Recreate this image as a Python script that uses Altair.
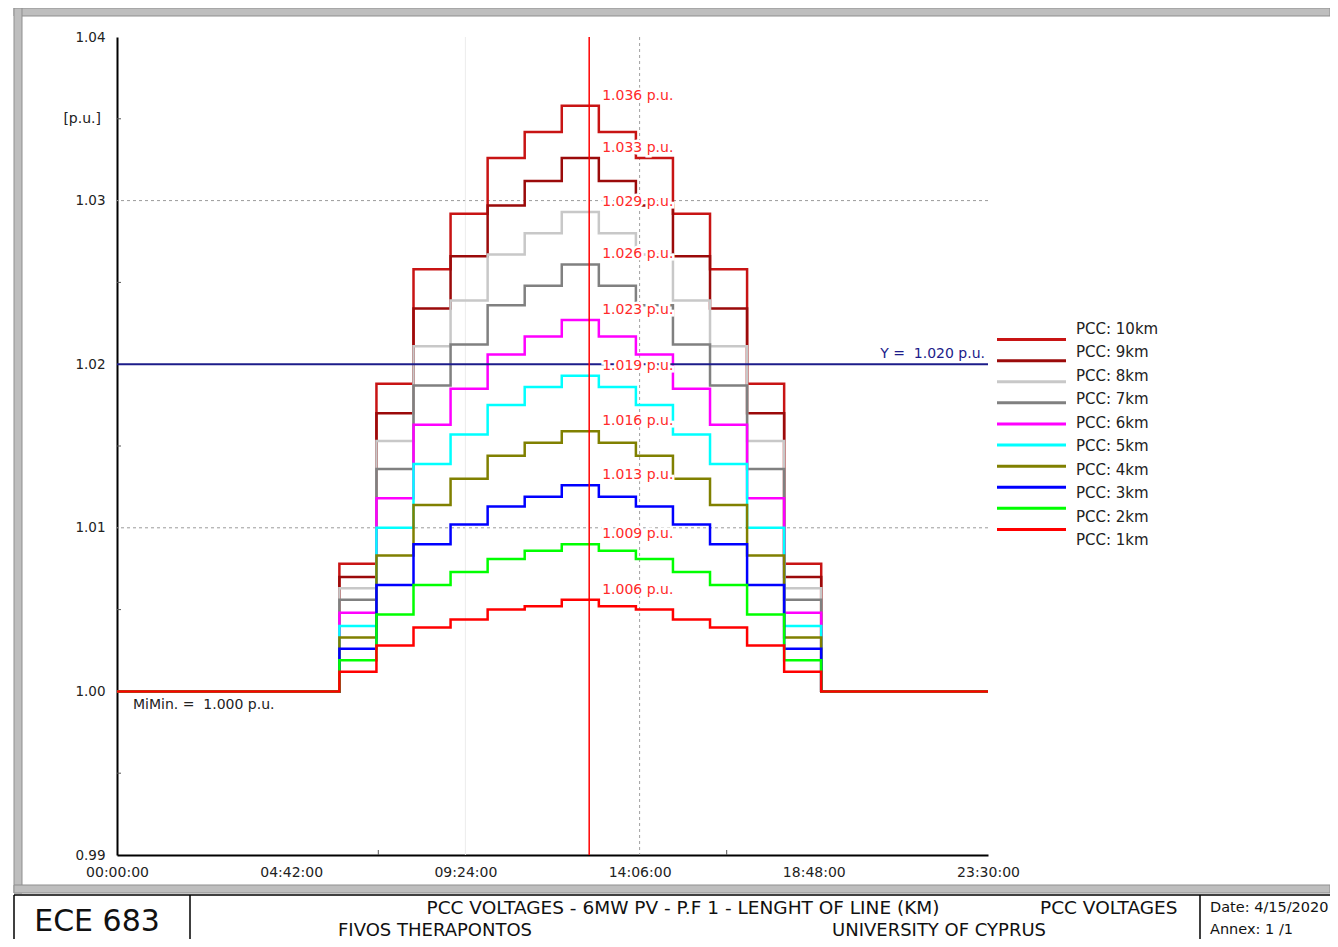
import altair as alt
import pandas as pd

FONT = "DejaVu Sans"

# ---------------- data ----------------
series_names = ["PCC: 10km", "PCC: 9km", "PCC: 8km", "PCC: 7km", "PCC: 6km",
                "PCC: 5km", "PCC: 4km", "PCC: 3km", "PCC: 2km", "PCC: 1km"]
series_colors = ["#c81414", "#9b0a0a", "#c8c8c8", "#808080", "#ff00ff",
                 "#00ffff", "#808000", "#0000ff", "#00ff00", "#ff0000"]

step_hours = [6, 7, 8, 9, 10, 11, 12, 13, 14, 15, 16, 17, 18]
v10km = [1.0078, 1.0188, 1.0258, 1.0292, 1.0326, 1.0342, 1.0358, 1.0342, 1.0326, 1.0292, 1.0258, 1.0188, 1.0078]
v9km = [1.0070, 1.0170, 1.0234, 1.0266, 1.0297, 1.0312, 1.0326, 1.0312, 1.0297, 1.0266, 1.0234, 1.0170, 1.0070]
v8km = [1.0063, 1.0153, 1.0211, 1.0239, 1.0267, 1.0280, 1.0293, 1.0280, 1.0267, 1.0239, 1.0211, 1.0153, 1.0063]
v7km = [1.0056, 1.0136, 1.0187, 1.0212, 1.0236, 1.0248, 1.0261, 1.0248, 1.0236, 1.0212, 1.0187, 1.0136, 1.0056]
v6km = [1.0048, 1.0118, 1.0163, 1.0185, 1.0206, 1.0217, 1.0227, 1.0217, 1.0206, 1.0185, 1.0163, 1.0118, 1.0048]
v5km = [1.0040, 1.0100, 1.0139, 1.0157, 1.0175, 1.0186, 1.0193, 1.0186, 1.0175, 1.0157, 1.0139, 1.0100, 1.0040]
v4km = [1.0033, 1.0083, 1.0114, 1.0130, 1.0144, 1.0152, 1.0159, 1.0152, 1.0144, 1.0130, 1.0114, 1.0083, 1.0033]
v3km = [1.0026, 1.0065, 1.0090, 1.0102, 1.0113, 1.0119, 1.0126, 1.0119, 1.0113, 1.0102, 1.0090, 1.0065, 1.0026]
v2km = [1.0019, 1.0047, 1.0065, 1.0073, 1.0081, 1.0086, 1.0090, 1.0086, 1.0081, 1.0073, 1.0065, 1.0047, 1.0019]
v1km = [1.0012, 1.0028, 1.0039, 1.0044, 1.0050, 1.0052, 1.0056, 1.0052, 1.0050, 1.0044, 1.0039, 1.0028, 1.0012]
series_values = [v10km, v9km, v8km, v7km, v6km, v5km, v4km, v3km, v2km, v1km]

base_level = 1.000
day_start = 0.0
flat_from = 19.0
day_end = 23.5

x_tick_values = [0, 4.7, 9.4, 14.1, 18.8, 23.5]
x_tick_labels = ["00:00:00", "04:42:00", "09:24:00", "14:06:00", "18:48:00", "23:30:00"]
y_tick_values = [0.99, 1.00, 1.01, 1.02, 1.03, 1.04]
y_minor_ticks = [0.995, 1.005, 1.015, 1.025, 1.035]
x_minor_ticks = [7.05, 16.45]
h_grid = [1.01, 1.03]
limit_value = [1.020]
cursor_time = [12.74]

NBSP = "\u00a0"

# ---------------- tables ----------------
rows = []
for name, vals in zip(series_names, series_values):
    rows.append((name, day_start, base_level))
    for h, v in zip(step_hours, vals):
        rows.append((name, h, v))
    rows.append((name, flat_from, base_level))
    rows.append((name, day_end, base_level))
df = pd.DataFrame(rows, columns=["series", "hour", "pu"])

peak_idx = step_hours.index(12)
df_lab = pd.DataFrame({
    "hour": [cursor_time[0]] * len(series_names),
    "pu": [vals[peak_idx] for vals in series_values],
    "txt": [f"{vals[peak_idx]:.3f} p.u." for vals in series_values],
})

W, H = 871, 818
xs = alt.Scale(domain=[day_start, day_end], nice=False, zero=False)
ys = alt.Scale(domain=[y_tick_values[0], y_tick_values[-1]], nice=False, zero=False)

lab_expr = ("[" + ",".join(f"'{s}'" for s in x_tick_labels) + "][indexof(["
            + ",".join(str(v) for v in x_tick_values) + "], datum.value)]")

x_axis = alt.Axis(values=x_tick_values, labelExpr=lab_expr, grid=False, ticks=False,
                  domainColor="#000000", domainWidth=2, labelFont=FONT, labelFontSize=14,
                  labelColor="#222222", labelPadding=10, title=None, labelFlush=False,
                  labelOverlap=False)
y_axis = alt.Axis(values=y_tick_values, format=".2f", grid=False, ticks=False,
                  domainColor="#000000", domainWidth=2, labelFont=FONT, labelFontSize=13.5,
                  labelColor="#222222", labelPadding=12, title=None, labelFlush=False,
                  labelOverlap=False)


def X(field="hour"):
    return alt.X(f"{field}:Q", scale=xs, axis=x_axis)


def Y(field="pu"):
    return alt.Y(f"{field}:Q", scale=ys, axis=y_axis)


layers = []

# grid
layers.append(alt.Chart(pd.DataFrame({"pu": h_grid})).mark_rule(
    color="#9a9a9a", strokeDash=[3, 3], strokeWidth=1).encode(y=Y()))
layers.append(alt.Chart(pd.DataFrame({"hour": [x_tick_values[2]]})).mark_rule(
    color="#ececec", strokeWidth=1).encode(x=X()))
layers.append(alt.Chart(pd.DataFrame({"hour": [x_tick_values[3]]})).mark_rule(
    color="#a0a0a0", strokeDash=[3, 3], strokeWidth=1).encode(x=X()))

# series (10km drawn first, 1km last)
for name, col in zip(series_names, series_colors):
    layers.append(alt.Chart(df).transform_filter(alt.datum.series == name).mark_line(
        interpolate="step-after", strokeWidth=2.5, color=col).encode(x=X(), y=Y()))

# limit line
layers.append(alt.Chart(pd.DataFrame({"pu": limit_value})).mark_rule(
    color="#1c1c8a", strokeWidth=2).encode(y=Y()))
layers.append(alt.Chart(pd.DataFrame({"pu": limit_value, "hour": [day_end],
                                      "txt": [f"Y ={NBSP} {limit_value[0]:.3f} p.u."]})).mark_text(
    align="right", baseline="alphabetic", dx=-3, dy=-6, font=FONT, fontSize=14,
    color="#1c1c8a").encode(x=X(), y=Y(), text="txt:N"))

# cursor
layers.append(alt.Chart(pd.DataFrame({"hour": cursor_time})).mark_rule(
    color="#ff0000", strokeWidth=1.5).encode(x=X()))
layers.append(alt.Chart(df_lab).mark_text(
    align="left", baseline="middle", dx=13, dy=-10, font=FONT, fontSize=14,
    stroke="white", strokeWidth=5, color="white").encode(x=X(), y=Y(), text="txt:N"))
layers.append(alt.Chart(df_lab).mark_text(
    align="left", baseline="middle", dx=13, dy=-10, font=FONT, fontSize=14,
    color="#ff2a2a").encode(x=X(), y=Y(), text="txt:N"))

# annotations
layers.append(alt.Chart(pd.DataFrame({"hour": [day_start], "pu": [base_level],
                                      "txt": [f"MiMin. ={NBSP} {base_level:.3f} p.u."]})).mark_text(
    align="left", baseline="middle", dx=16, dy=14, font=FONT, fontSize=14,
    color="#222222").encode(x=X(), y=Y(), text="txt:N"))
layers.append(alt.Chart(pd.DataFrame({"hour": [day_start], "pu": [1.035], "txt": ["[p.u.]"]})).mark_text(
    align="right", baseline="middle", dx=-16, font=FONT, fontSize=14,
    color="#222222").encode(x=X(), y=Y(), text="txt:N"))

# minor ticks
layers.append(alt.Chart(pd.DataFrame({"pu": y_minor_ticks})).mark_rule(
    color="#555555", strokeWidth=1).encode(y=Y(), x=alt.value(0), x2=alt.value(4)))
layers.append(alt.Chart(pd.DataFrame({"hour": x_minor_ticks})).mark_rule(
    color="#555555", strokeWidth=1).encode(x=X(), y=alt.value(H - 5), y2=alt.value(H)))

# page frame (decoration, pixel space relative to plot origin)
OX, OY = 117, 37


def rect(x1, y1, x2, y2, fill, stroke=None):
    kw = dict(fill=fill)
    if stroke:
        kw.update(stroke=stroke, strokeWidth=1)
    return alt.Chart(pd.DataFrame({"k": [0]})).mark_rect(**kw).encode(
        x=alt.value(x1 - OX), x2=alt.value(x2 - OX), y=alt.value(y1 - OY), y2=alt.value(y2 - OY))


def line(x1, y1, x2, y2, color="#000000", w=1.5):
    return alt.Chart(pd.DataFrame({"k": [0]})).mark_rule(color=color, strokeWidth=w).encode(
        x=alt.value(x1 - OX), x2=alt.value(x2 - OX), y=alt.value(y1 - OY), y2=alt.value(y2 - OY))


def label(x, y, txt, size, align="left"):
    return alt.Chart(pd.DataFrame({"t": [txt]})).mark_text(
        align=align, baseline="middle", font=FONT, fontSize=size, color="#111111").encode(
        x=alt.value(x - OX), y=alt.value(y - OY), text="t:N")


layers += [
    rect(14, 8, 1330, 16, "#bebebe", "#8f8f8f"),
    rect(14, 8, 22, 893, "#bebebe", "#8f8f8f"),
    rect(14, 885, 1330, 893, "#bebebe", "#8f8f8f"),
    line(14, 895, 1330, 895),
    line(14, 895, 14, 947),
    line(190, 895, 190, 947),
    line(1200, 895, 1200, 947),
    label(97, 922, "ECE 683", 30, "center"),
    label(683, 908, "PCC VOLTAGES - 6MW PV - P.F 1 - LENGHT OF LINE (KM)", 18.5, "center"),
    label(1040, 908, "PCC VOLTAGES", 18.5),
    label(1210, 908, "Date: 4/15/2020", 14.5),
    label(1210, 930, "Annex: 1 /1", 14.5),
    label(338, 931, "FIVOS THERAPONTOS", 18),
    label(832, 931, "UNIVERSITY OF CYPRUS", 18),
]

inner = alt.layer(*layers)

# legend (own y scale)
df_leg = pd.DataFrame({"series": series_names})
leg_y = alt.Y("series:N", scale=alt.Scale(domain=series_names, range=[329 - OY, 540 - OY], padding=0),
              axis=None)
leg_color = alt.Color("series:N", scale=alt.Scale(domain=series_names, range=series_colors), legend=None)
legend_lines = alt.Chart(df_leg).mark_rule(strokeWidth=3).encode(
    x=alt.value(997 - OX), x2=alt.value(1066 - OX), y=leg_y, color=leg_color)
legend_text = alt.Chart(df_leg).mark_text(align="left", baseline="middle", font=FONT,
                                          fontSize=15, color="#222222").encode(
    x=alt.value(1076 - OX), y=leg_y, text="series:N")

chart = alt.layer(inner, legend_lines, legend_text).resolve_scale(y="independent").properties(
    width=W, height=H,
    padding={"left": OX - 8, "top": OY - 8, "right": 1330 - (OX + W), "bottom": 939 - (OY + H)},
    autosize=alt.AutoSizeParams(type="none"),
    background="white",
).configure(font=FONT, view=alt.ViewConfig(stroke=None))

chart.save("out.html", embed_options={"renderer": "svg", "actions": False})
